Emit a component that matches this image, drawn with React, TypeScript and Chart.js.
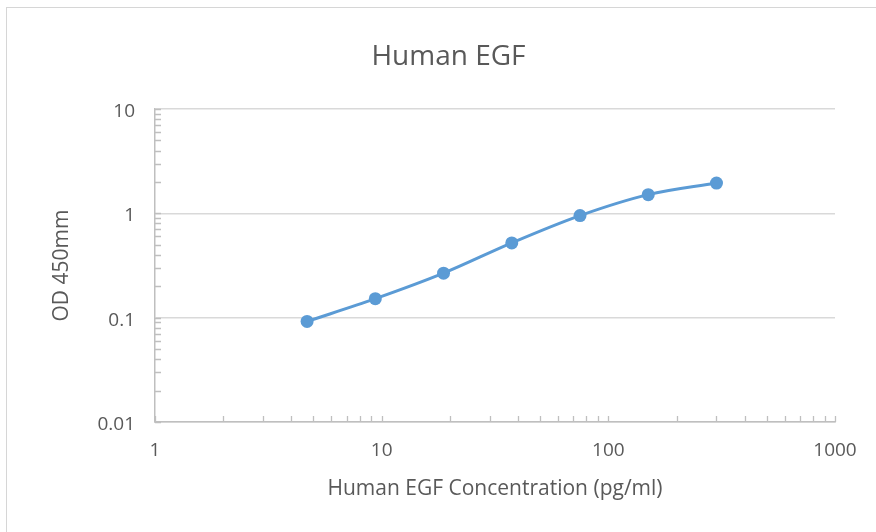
import React, { useEffect, useRef } from "react";
import { Chart, registerables } from "chart.js";

Chart.register(...registerables);

const concentrations = [4.6875, 9.375, 18.75, 37.5, 75, 150, 300];
const odValues = [0.092, 0.152, 0.267, 0.521, 0.951, 1.51, 1.95];
const xTickValues = [
  1, 2, 3, 4, 5, 6, 7, 8, 9,
  10, 20, 30, 40, 50, 60, 70, 80, 90,
  100, 200, 300, 400, 500, 600, 700, 800, 900, 1000,
];
const yTickValues = [
  0.01, 0.02, 0.03, 0.04, 0.05, 0.06, 0.07, 0.08, 0.09,
  0.1, 0.2, 0.3, 0.4, 0.5, 0.6, 0.7, 0.8, 0.9,
  1, 2, 3, 4, 5, 6, 7, 8, 9, 10,
];
const chartTitle = "Human EGF";
const xTitle = "Human EGF Concentration (pg/ml)";
const yTitle = "OD 450mm";

const FONT = "'Open Sans', 'Noto Sans', sans-serif";
const TEXT = "#595959";
const GRID = "#d9d9d9";
const AXIS = "#bfbfbf";
const BLUE = "#5b9bd5";

const isDecade = (v: number) => {
  const l = Math.log10(v);
  return Math.abs(l - Math.round(l)) < 1e-9;
};

const minorTicksPlugin = {
  id: "minorTicks",
  beforeDatasetsDraw(chart: any) {
    const ctx = chart.ctx;
    const xs = chart.scales.x;
    const ys = chart.scales.y;
    ctx.save();
    ctx.strokeStyle = AXIS;
    ctx.lineWidth = 1.3;
    ctx.beginPath();
    xs.ticks.forEach((t: any) => {
      const px = Math.round(xs.getPixelForValue(t.value)) + 0.5;
      ctx.moveTo(px, ys.bottom);
      ctx.lineTo(px, ys.bottom - 6);
    });
    ys.ticks.forEach((t: any) => {
      const py = Math.round(ys.getPixelForValue(t.value)) + 0.5;
      ctx.moveTo(xs.left, py);
      ctx.lineTo(xs.left + 6, py);
    });
    ctx.stroke();
    ctx.restore();
  },
};

export default function App() {
  const canvasRef = useRef<HTMLCanvasElement | null>(null);

  useEffect(() => {
    if (!canvasRef.current) return;
    const chart = new Chart(canvasRef.current, {
      type: "scatter",
      data: {
        datasets: [
          {
            data: concentrations.map((c, i) => ({ x: c, y: odValues[i] })),
            showLine: true,
            borderColor: BLUE,
            backgroundColor: BLUE,
            borderWidth: 3,
            pointRadius: 6.5,
            pointBorderWidth: 0,
            pointBackgroundColor: BLUE,
            cubicInterpolationMode: "monotone",
          } as any,
        ],
      },
      options: {
        responsive: false,
        animation: false,
        layout: { padding: { left: 62, right: 41, top: 0, bottom: 31.4 } },
        plugins: {
          legend: { display: false },
          tooltip: { enabled: false },
          title: {
            display: true,
            text: chartTitle,
            color: TEXT,
            font: { family: FONT, size: 28, weight: "normal" as any, lineHeight: 1.2 },
            padding: { top: 40, bottom: 35.4 },
          },
        },
        scales: {
          x: {
            type: "logarithmic",
            min: 1,
            max: 1000,
            afterBuildTicks: (scale: any) => {
              scale.ticks = xTickValues.map((v) => ({ value: v }));
            },
            afterFit: (scale: any) => {
              scale.height = 78.6;
            },
            ticks: {
              autoSkip: false,
              maxRotation: 0,
              padding: 17,
              color: TEXT,
              font: { family: FONT, size: 19, lineHeight: 1.2 },
              callback: (v: any) => (isDecade(Number(v)) ? String(Number(v)) : ""),
            },
            grid: { display: true, drawTicks: false, color: "rgba(0,0,0,0)" },
            border: { display: true, color: AXIS, width: 1.5 },
            title: {
              display: true,
              text: xTitle,
              color: TEXT,
              font: { family: FONT, size: 21, lineHeight: 1.2 },
              padding: { top: 0, bottom: -1 },
            },
          },
          y: {
            type: "logarithmic",
            min: 0.01,
            max: 10,
            afterBuildTicks: (scale: any) => {
              scale.ticks = yTickValues.map((v) => ({ value: v }));
            },
            afterFit: (scale: any) => {
              scale.width = 93;
            },
            ticks: {
              autoSkip: false,
              padding: 20,
              labelOffset: 2.5,
              color: TEXT,
              font: { family: FONT, size: 19, lineHeight: 1.2 },
              callback: (v: any) => (isDecade(Number(v)) ? String(Number(v)) : ""),
            },
            grid: {
              display: true,
              drawTicks: false,
              lineWidth: 1.6,
              color: (c: any) =>
                c.tick && isDecade(c.tick.value) ? GRID : "rgba(0,0,0,0)",
            },
            border: { display: true, color: AXIS, width: 1.5 },
            title: {
              display: true,
              text: yTitle,
              color: TEXT,
              font: { family: FONT, size: 21, lineHeight: 1.2 },
              padding: { top: -12.6, bottom: 0 },
            },
          },
        },
      },
      plugins: [minorTicksPlugin],
    });
    return () => chart.destroy();
  }, []);

  return (
    <div
      style={{
        position: "absolute",
        left: 0,
        top: 0,
        width: 876,
        height: 532,
        overflow: "hidden",
        background: "#ffffff",
      }}
    >
      <div
        style={{
          position: "absolute",
          left: 6,
          top: 7,
          width: 920,
          height: 600,
          border: "1.5px solid #d6d6d6",
          boxSizing: "border-box",
        }}
      />
      <canvas
        ref={canvasRef}
        width={876}
        height={532}
        style={{ position: "absolute", left: 0, top: 0, display: "block" }}
      />
    </div>
  );
}
